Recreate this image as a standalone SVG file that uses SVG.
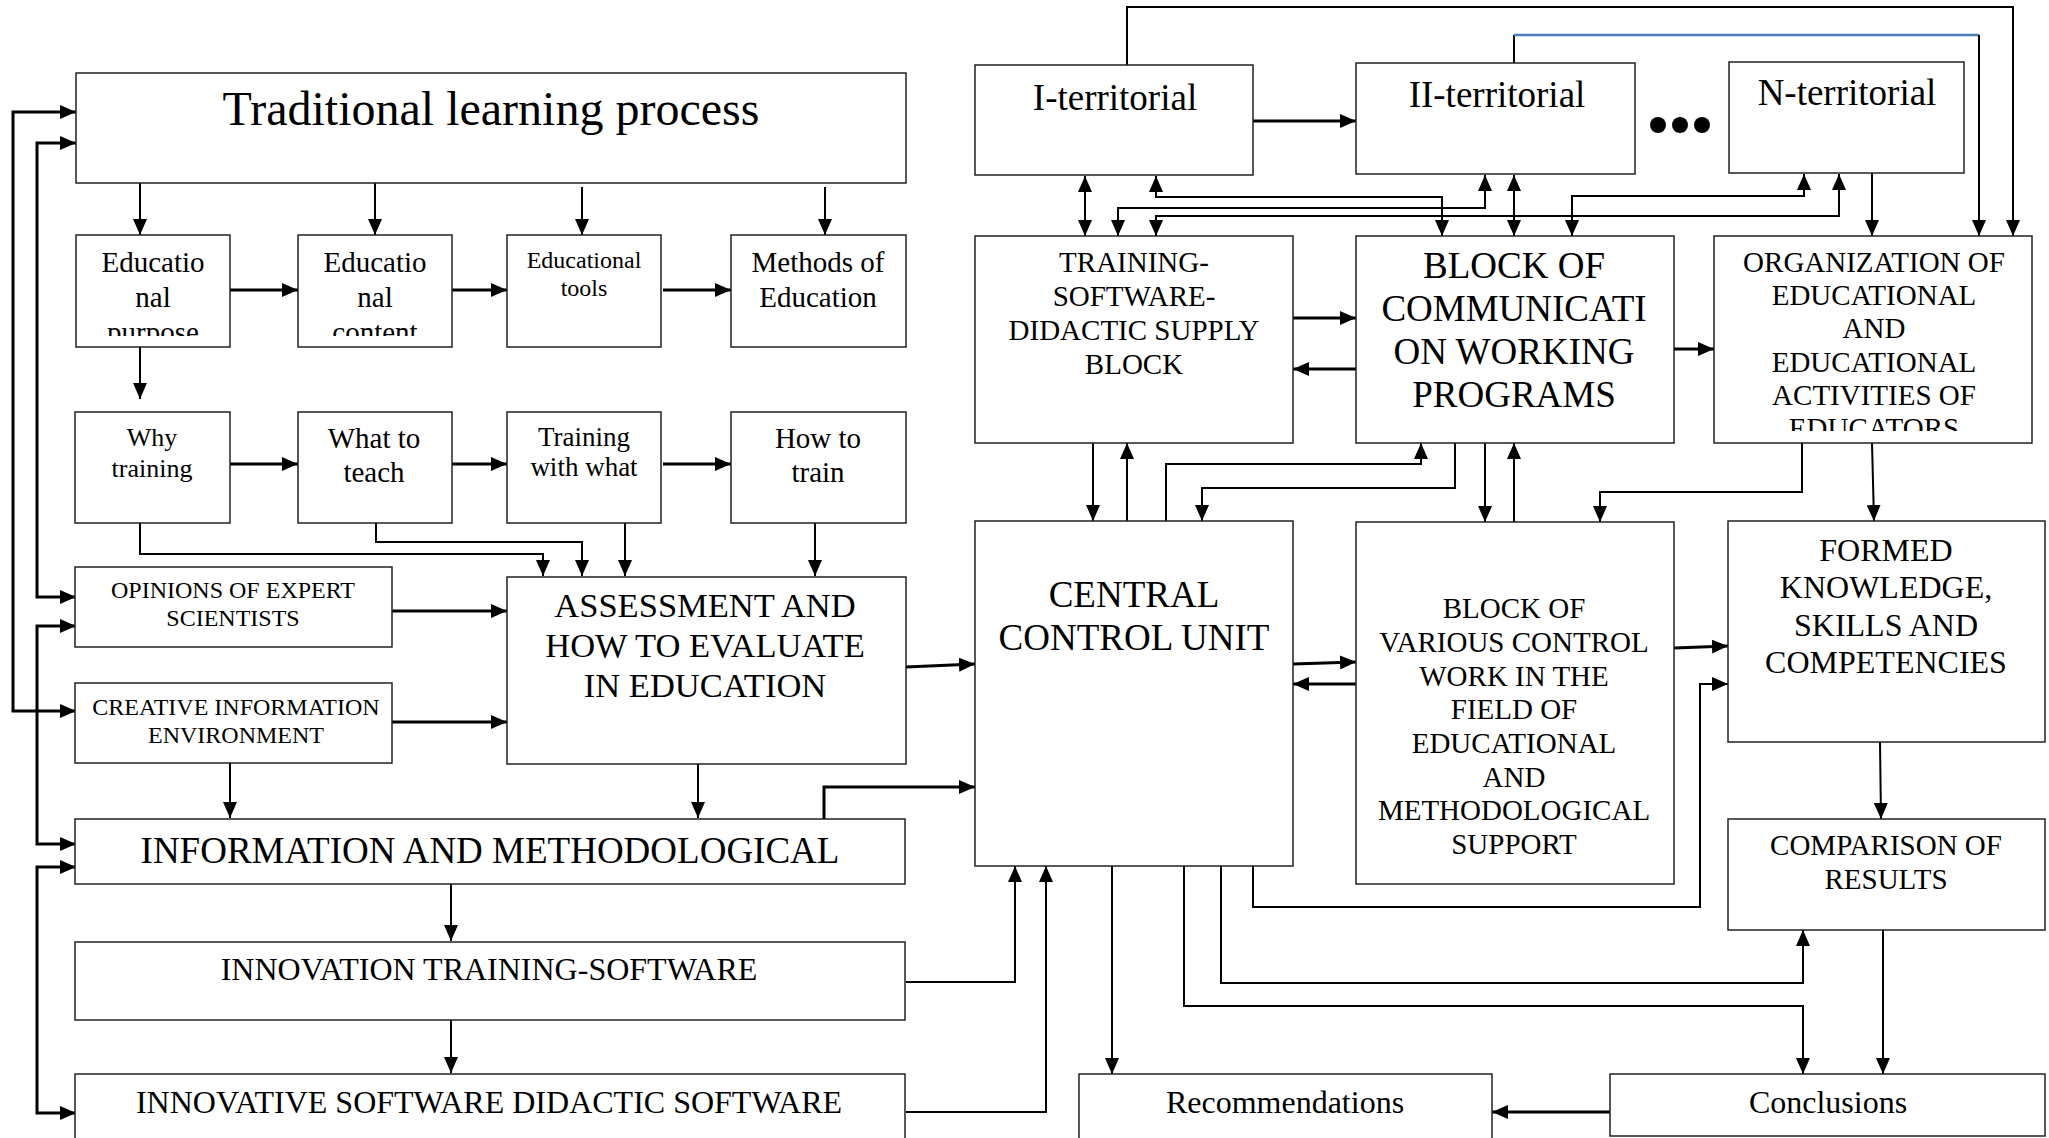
<svg xmlns="http://www.w3.org/2000/svg" width="2049" height="1138" viewBox="0 0 2049 1138">
<style>
.box{fill:#fff;stroke:#222;stroke-width:1.5}
text{font-family:"Liberation Serif","Times New Roman",serif;fill:#000;text-anchor:middle}
.c{fill:none;stroke:#000;stroke-width:2}
.t{fill:none;stroke:#000;stroke-width:3}
.e{marker-end:url(#ah)}
.b{marker-start:url(#ah);marker-end:url(#ah)}
.s{marker-start:url(#ah)}
</style>
<defs>
<marker id="ah" markerUnits="userSpaceOnUse" markerWidth="16" markerHeight="14" refX="16" refY="7" orient="auto-start-reverse">
<path d="M0,0 L16,7 L0,14 z" fill="#000"/>
</marker>
<clipPath id="cpPurpose"><rect x="76" y="235" width="154" height="101"/></clipPath>
<clipPath id="cpContent"><rect x="298" y="235" width="154" height="101"/></clipPath>
<clipPath id="cpOrg"><rect x="1714" y="236" width="318" height="195"/></clipPath>
</defs>
<rect width="2049" height="1138" fill="#fff"/>

<g id="connectors">
<!-- left column -->
<path class="c e" d="M140,183 V235"/>
<path class="c e" d="M375,183 V235"/>
<path class="c e" d="M582,187 V235"/>
<path class="c e" d="M825,187 V235"/>
<path class="t e" d="M230,290 H298"/>
<path class="t e" d="M452,290 H507"/>
<path class="t e" d="M663,290 H731"/>
<path class="c e" d="M140,347 V399"/>
<path class="t e" d="M230,464 H298"/>
<path class="t e" d="M452,464 H507"/>
<path class="t e" d="M663,464 H731"/>
<path class="c e" d="M140,523 V554 H543 V576"/>
<path class="c e" d="M376,523 V542 H582 V576"/>
<path class="c e" d="M625,523 V576"/>
<path class="c e" d="M815,523 V576"/>
<path class="t e" d="M392,611 H507"/>
<path class="t e" d="M392,722 H507"/>
<path class="c e" d="M230,763 V818"/>
<path class="c e" d="M698,764 V818"/>
<path class="c e" d="M451,884 V941"/>
<path class="c e" d="M451,1020 V1073"/>
<path class="t b" d="M76,112 H13 V711 H76"/>
<path class="t b" d="M76,143 H37 V597 H76"/>
<path class="t b" d="M76,626 H37 V844 H76"/>
<path class="t b" d="M76,867 H37 V1113 H76"/>
<path class="t e" d="M906,667 L975,664"/>
<path class="t e" d="M824,819 V787 H975"/>
<path class="c e" d="M906,982 H1015 V866"/>
<path class="c e" d="M906,1112 H1046 V866"/>
<!-- right side -->
<path class="t e" d="M1253,121 H1356"/>
<path class="c e" d="M1127,65 V7 H2013 V236"/>
<path class="c" d="M1514,63 V35"/>
<path fill="none" stroke="#4a7ebb" stroke-width="2.5" d="M1514,35 H1979"/>
<path class="c e" d="M1979,35 V236"/>
<path class="c b" d="M1085,176 V236"/>
<path class="c b" d="M1442,236 V197 H1156 V176"/>
<path class="c b" d="M1118,236 V208 H1485 V175"/>
<path class="c b" d="M1514,175 V236"/>
<path class="c b" d="M1156,236 V216 H1839 V174"/>
<path class="c b" d="M1572,236 V196 H1804 V174"/>
<path class="c e" d="M1872,173 V236"/>
<path class="t e" d="M1293,318 H1356"/>
<path class="t e" d="M1356,369 H1293"/>
<path class="t e" d="M1674,349 H1714"/>
<path class="c e" d="M1093,443 V521"/>
<path class="c e" d="M1127,521 V443"/>
<path class="c e" d="M1166,521 V464 H1421 V443"/>
<path class="c e" d="M1455,443 V488 H1202 V521"/>
<path class="c e" d="M1485,443 V522"/>
<path class="c e" d="M1514,522 V443"/>
<path class="c e" d="M1802,443 V492 H1600 V522"/>
<path class="c e" d="M1872,443 L1874,521"/>
<path class="t e" d="M1293,664 L1356,662"/>
<path class="t e" d="M1356,684 H1293"/>
<path class="t e" d="M1674,648 L1728,646"/>
<path class="c e" d="M1253,866 V907 H1700 V684 H1728"/>
<path class="c e" d="M1880,742 L1881,819"/>
<path class="c e" d="M1221,866 V983 H1803 V930"/>
<path class="c e" d="M1184,866 V1006 H1803 V1074"/>
<path class="c e" d="M1112,866 V1074"/>
<path class="c e" d="M1883,930 V1074"/>
<path class="t e" d="M1610,1112 H1492"/>
</g>

<g id="traditional"><rect class="box" x="76" y="73" width="830" height="110"/><text x="491" y="125" font-size="48">Traditional learning process</text></g>
<g id="purpose"><rect class="box" x="76" y="235" width="154" height="112"/><g clip-path="url(#cpPurpose)" font-size="29"><text x="153" y="272">Educatio</text><text x="153" y="307">nal</text><text x="153" y="342">purpose</text></g></g>
<g id="content"><rect class="box" x="298" y="235" width="154" height="112"/><g clip-path="url(#cpContent)" font-size="29"><text x="375" y="272">Educatio</text><text x="375" y="307">nal</text><text x="375" y="342">content</text></g></g>
<g id="tools"><rect class="box" x="507" y="235" width="154" height="112"/><text x="584" y="268" font-size="24">Educational</text><text x="584" y="296" font-size="24">tools</text></g>
<g id="methods"><rect class="box" x="731" y="235" width="175" height="112"/><text x="818" y="272" font-size="29">Methods of</text><text x="818" y="307" font-size="29">Education</text></g>

<g id="why"><rect class="box" x="75" y="412" width="155" height="111"/><text x="152" y="446" font-size="26">Why</text><text x="152" y="477" font-size="26">training</text></g>
<g id="what"><rect class="box" x="298" y="412" width="154" height="111"/><text x="374" y="448" font-size="29">What to</text><text x="374" y="482" font-size="29">teach</text></g>
<g id="trainwith"><rect class="box" x="507" y="412" width="154" height="111"/><text x="584" y="446" font-size="27">Training</text><text x="584" y="476" font-size="27">with what</text></g>
<g id="howto"><rect class="box" x="731" y="412" width="175" height="111"/><text x="818" y="448" font-size="29">How to</text><text x="818" y="482" font-size="29">train</text></g>

<g id="opinions"><rect class="box" x="75" y="567" width="317" height="80"/><text x="233" y="598" font-size="24">OPINIONS OF EXPERT</text><text x="233" y="626" font-size="24">SCIENTISTS</text></g>
<g id="creative"><rect class="box" x="75" y="683" width="317" height="80"/><text x="236" y="715" font-size="24">CREATIVE INFORMATION</text><text x="236" y="743" font-size="24">ENVIRONMENT</text></g>
<g id="assessment"><rect class="box" x="507" y="577" width="399" height="187"/><text x="705" y="617" font-size="34.5">ASSESSMENT AND</text><text x="705" y="657" font-size="34.5">HOW TO EVALUATE</text><text x="705" y="697" font-size="34.5">IN EDUCATION</text></g>
<g id="infomethod"><rect class="box" x="75" y="819" width="830" height="65"/><text x="490" y="863" font-size="37">INFORMATION AND METHODOLOGICAL</text></g>
<g id="innovation"><rect class="box" x="75" y="942" width="830" height="78"/><text x="489" y="980" font-size="32">INNOVATION TRAINING-SOFTWARE</text></g>
<g id="innovative"><rect class="box" x="75" y="1074" width="830" height="80"/><text x="489" y="1113" font-size="32">INNOVATIVE SOFTWARE DIDACTIC SOFTWARE</text></g>

<g id="terr1"><rect class="box" x="975" y="65" width="278" height="110"/><text x="1115" y="110" font-size="37">I-territorial</text></g>
<g id="terr2"><rect class="box" x="1356" y="63" width="279" height="111"/><text x="1497" y="107" font-size="37">II-territorial</text></g>
<g id="dots"><circle cx="1658" cy="125" r="8"/><circle cx="1680" cy="125" r="8"/><circle cx="1702" cy="125" r="8"/></g>
<g id="terrN"><rect class="box" x="1729" y="62" width="235" height="111"/><text x="1847" y="105" font-size="37">N-territorial</text></g>

<g id="trainingblock"><rect class="box" x="975" y="236" width="318" height="207"/><text x="1134" y="272" font-size="29">TRAINING-</text><text x="1134" y="306" font-size="29">SOFTWARE-</text><text x="1134" y="340" font-size="29">DIDACTIC SUPPLY</text><text x="1134" y="374" font-size="29">BLOCK</text></g>
<g id="commblock"><rect class="box" x="1356" y="236" width="318" height="207"/><text x="1514" y="278" font-size="37">BLOCK OF</text><text x="1514" y="321" font-size="37">COMMUNICATI</text><text x="1514" y="364" font-size="37">ON WORKING</text><text x="1514" y="407" font-size="37">PROGRAMS</text></g>
<g id="organization"><rect class="box" x="1714" y="236" width="318" height="207"/><g clip-path="url(#cpOrg)" font-size="29"><text x="1874" y="272">ORGANIZATION OF</text><text x="1874" y="305">EDUCATIONAL</text><text x="1874" y="338">AND</text><text x="1874" y="372">EDUCATIONAL</text><text x="1874" y="405">ACTIVITIES OF</text><text x="1874" y="438">EDUCATORS</text></g></g>

<g id="central"><rect class="box" x="975" y="521" width="318" height="345"/><text x="1134" y="607" font-size="37">CENTRAL</text><text x="1134" y="650" font-size="37">CONTROL UNIT</text></g>
<g id="various"><rect class="box" x="1356" y="522" width="318" height="362"/><g font-size="29"><text x="1514" y="618">BLOCK OF</text><text x="1514" y="652">VARIOUS CONTROL</text><text x="1514" y="686">WORK IN THE</text><text x="1514" y="719">FIELD OF</text><text x="1514" y="753">EDUCATIONAL</text><text x="1514" y="787">AND</text><text x="1514" y="820">METHODOLOGICAL</text><text x="1514" y="854">SUPPORT</text></g></g>
<g id="formed"><rect class="box" x="1728" y="521" width="317" height="221"/><g font-size="32"><text x="1886" y="561">FORMED</text><text x="1886" y="598">KNOWLEDGE,</text><text x="1886" y="636">SKILLS AND</text><text x="1886" y="673">COMPETENCIES</text></g></g>
<g id="comparison"><rect class="box" x="1728" y="819" width="317" height="111"/><text x="1886" y="855" font-size="29">COMPARISON OF</text><text x="1886" y="889" font-size="29">RESULTS</text></g>
<g id="recommendations"><rect class="box" x="1079" y="1074" width="413" height="80"/><text x="1285" y="1113" font-size="32">Recommendations</text></g>
<g id="conclusions"><rect class="box" x="1610" y="1074" width="435" height="62"/><text x="1828" y="1113" font-size="32">Conclusions</text></g>
</svg>
